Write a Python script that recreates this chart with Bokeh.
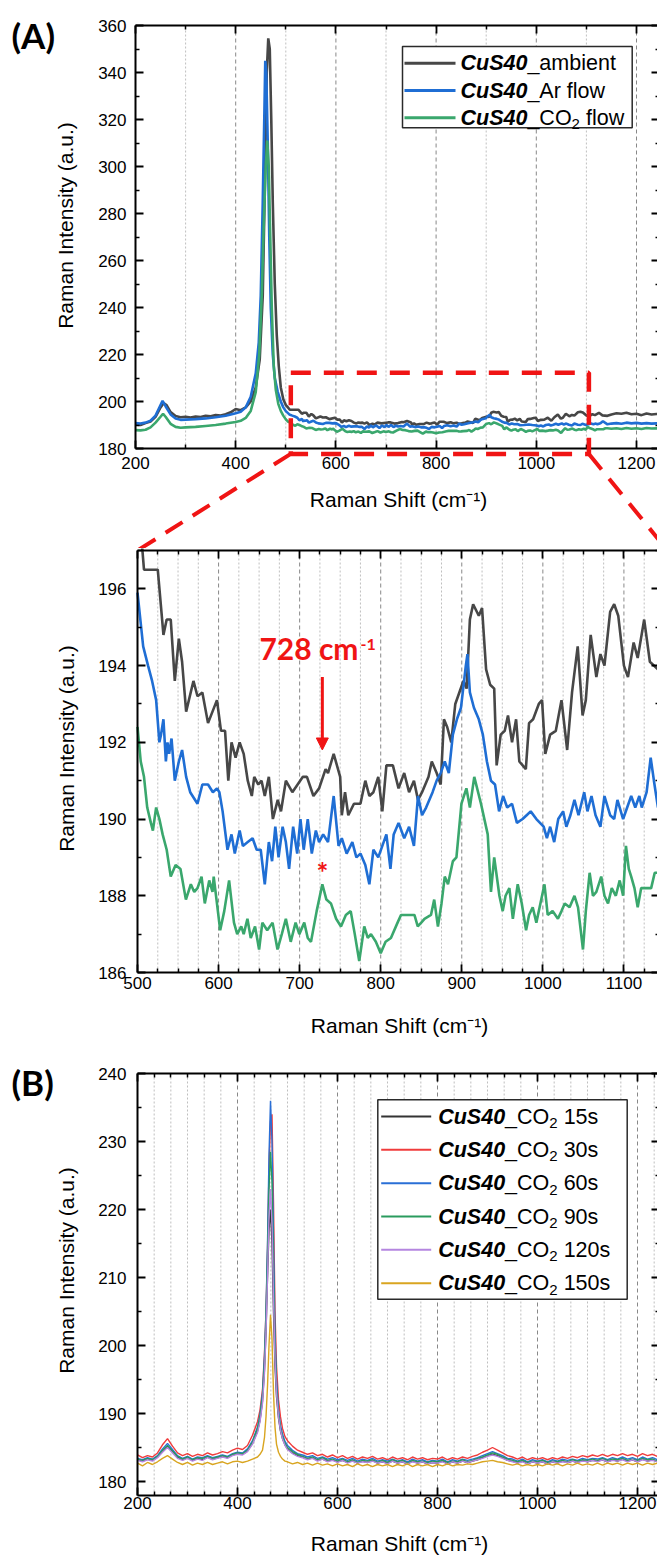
from bokeh.plotting import figure
from bokeh.models import (LinearAxis, FixedTicker, Label, BoxAnnotation, Arrow, NormalHead, Range1d)
from bokeh.layouts import column
from bokeh.embed import file_html
from bokeh.resources import INLINE

# ---------------------------------------------------------------- data
# Panel (A) / zoom panel : CuS40 spectra (Raman shift cm-1, intensity a.u.)
ambient_pts = [
    (200, 190.2), (210, 190.0), (220, 190.8), (230, 191.5), (240, 193.5), (250, 197.5), (256, 199.3),
    (262, 198.5), (270, 195.5), (280, 193.8), (290, 193.3), (300, 193.5), (310, 193.2), (320, 193.6),
    (330, 193.4), (340, 193.9), (350, 193.7), (360, 194.2), (370, 194.0), (380, 194.6), (390, 195.4),
    (400, 196.8), (410, 196.3), (420, 197.5), (430, 200.0), (440, 206.0), (448, 218.0), (454, 245.0),
    (458, 290.0), (462, 340.0), (465, 354.5), (468, 350.0), (471, 320.0), (474, 285.0), (478, 250.0),
    (482, 228.0), (486, 215.0), (490, 206.0), (495, 201.0), (500, 198.5), (503, 197.8),
    (508, 196.5), (515, 196.5), (525, 196.5), (532, 194.8), (536, 195.2), (541, 195.2), (546, 193.6),
    (551, 194.7), (555, 194.1), (560, 192.8), (569, 193.6), (574, 193.2), (580, 193.3), (587, 192.5),
    (598, 193.1), (603, 192.3), (608, 192.3), (612, 191.0), (616, 192.0), (621, 191.6), (626, 192.0),
    (631, 191.7), (636, 191.0), (641, 190.6), (644, 191.1), (649, 190.9), (653, 191.0), (657, 190.6),
    (662, 191.1), (667, 190.0), (673, 190.5), (677, 190.2), (683, 191.0), (691, 190.7), (704, 191.1),
    (709, 191.1), (717, 190.6), (724, 190.8), (732, 191.3), (735, 191.2), (742, 191.7), (750, 191.1),
    (752, 190.1), (756, 190.7), (760, 190.1), (767, 190.4), (775, 190.4), (781, 191.0), (786, 190.6),
    (791, 190.7), (797, 191.1), (802, 190.2), (807, 191.4), (815, 191.4), (822, 190.8), (829, 191.2),
    (835, 190.7), (841, 191.0), (846, 190.5), (851, 190.7), (859, 191.1), (863, 191.5), (869, 191.2),
    (874, 190.9), (878, 192.6), (882, 192.4), (887, 192.0), (892, 193.0), (897, 193.3), (902, 193.6),
    (906, 193.4), (910, 195.2), (914, 195.6), (921, 195.3), (925, 195.5), (930, 193.9), (935, 193.5),
    (940, 193.4), (943, 191.4), (948, 192.2), (953, 192.3), (957, 192.7), (962, 192.0), (967, 192.6),
    (971, 191.5), (979, 191.3), (983, 192.5), (988, 192.6), (995, 193.0), (999, 193.1), (1003, 191.7),
    (1009, 192.2), (1016, 192.3), (1023, 193.1), (1030, 191.8), (1036, 193.3), (1043, 194.5),
    (1049, 192.7), (1053, 193.1), (1059, 194.8), (1066, 193.7), (1071, 194.3), (1076, 194.0),
    (1083, 195.4), (1088, 195.6), (1093, 195.3), (1100, 194.0), (1105, 193.7), (1112, 194.6),
    (1117, 194.2), (1125, 195.2), (1132, 194.1), (1142, 193.9), (1150, 194.5), (1160, 195.0),
    (1170, 194.8), (1180, 195.2), (1190, 194.6), (1200, 194.8), (1210, 194.2), (1220, 194.9),
    (1230, 194.5), (1240, 194.7), (1250, 194.6),
]
arflow_pts = [
    (200, 190.8), (210, 190.6), (220, 191.0), (230, 191.8), (240, 194.0), (250, 198.5), (254, 200.3),
    (260, 198.0), (270, 194.5), (280, 192.8), (290, 192.2), (300, 192.3), (320, 192.5), (340, 192.8),
    (360, 193.3), (380, 193.9), (400, 195.0), (410, 195.6), (420, 197.5), (430, 202.0), (440, 212.0),
    (446, 225.0), (450, 245.0), (454, 285.0), (457, 320.0), (459, 345.0), (461, 340.0), (464, 310.0),
    (467, 270.0), (470, 240.0), (474, 220.0), (478, 210.0), (484, 204.0), (490, 200.0), (495, 197.5),
    (500, 195.9), (507, 194.5), (513, 194.0), (518, 193.6), (523, 193.1), (527, 192.0), (529, 192.2),
    (532, 192.6), (535, 191.5), (537, 192.0), (539, 191.7), (542, 192.1), (546, 191.0), (551, 191.5),
    (555, 191.8), (560, 191.1), (565, 190.7), (574, 190.4), (580, 190.9), (587, 190.9), (593, 190.7),
    (598, 190.8), (601, 190.7), (605, 190.2), (611, 189.2), (616, 189.6), (620, 189.1), (626, 189.7),
    (630, 189.3), (636, 189.4), (642, 189.5), (647, 189.2), (652, 189.2), (657, 188.3), (662, 189.4),
    (666, 188.9), (670, 189.8), (674, 189.0), (679, 189.8), (683, 189.4), (687, 188.7), (692, 189.8),
    (697, 189.1), (701, 190.0), (705, 189.2), (710, 190.0), (715, 189.1), (720, 189.7), (724, 189.4),
    (729, 189.6), (735, 189.4), (742, 190.6), (748, 189.3), (752, 189.5), (758, 189.1), (765, 189.4),
    (770, 189.0), (775, 189.1), (781, 188.8), (786, 188.3), (791, 189.2), (797, 189.0), (802, 189.3),
    (807, 189.6), (812, 188.7), (816, 189.6), (822, 189.9), (829, 189.5), (835, 189.8), (841, 189.3),
    (846, 190.6), (851, 190.1), (856, 190.3), (864, 190.7), (869, 191.0), (874, 191.2), (879, 191.5),
    (884, 191.2), (889, 192.2), (894, 192.6), (899, 192.9), (905, 194.0), (907, 194.3), (910, 193.3),
    (915, 192.9), (921, 192.6), (926, 192.2), (931, 191.5), (936, 191.0), (941, 190.9), (946, 190.2),
    (951, 190.6), (956, 190.3), (962, 190.4), (968, 189.9), (975, 190.0), (980, 190.1), (985, 190.2),
    (992, 190.0), (1001, 189.8), (1005, 189.5), (1009, 189.8), (1014, 189.4), (1019, 190.0),
    (1025, 190.2), (1029, 189.8), (1034, 190.1), (1039, 190.5), (1044, 190.1), (1051, 190.7),
    (1055, 190.2), (1060, 190.6), (1065, 190.1), (1071, 189.8), (1076, 190.6), (1083, 190.1),
    (1088, 190.0), (1092, 190.5), (1099, 190.0), (1104, 190.3), (1109, 190.6), (1114, 190.3),
    (1119, 190.6), (1122, 190.3), (1128, 190.7), (1133, 191.6), (1137, 191.0), (1142, 190.3),
    (1150, 190.6), (1160, 190.8), (1170, 190.5), (1180, 191.0), (1190, 190.7), (1200, 190.9),
    (1210, 190.6), (1220, 190.8), (1230, 190.6), (1240, 190.7), (1250, 190.6),
]
co2flow_pts = [
    (200, 187.8), (210, 187.7), (220, 188.0), (230, 189.0), (240, 191.0), (250, 193.5), (255, 194.8),
    (260, 193.5), (270, 190.5), (280, 189.2), (290, 188.8), (300, 189.0), (320, 189.2), (340, 189.6),
    (360, 190.0), (380, 190.6), (400, 191.3), (410, 191.8), (420, 193.0), (430, 196.0), (440, 204.0),
    (447, 220.0), (452, 245.0), (456, 275.0), (460, 300.0), (463, 311.0), (466, 300.0), (469, 270.0),
    (472, 240.0), (476, 215.0), (480, 205.0), (485, 199.0), (490, 196.0), (495, 194.0),
    (500, 192.4), (504, 191.5), (508, 191.1), (512, 190.3), (516.5, 189.9), (519, 189.7), (523, 190.3),
    (527, 190.0), (531, 189.6), (536, 189.2), (541, 188.5), (547, 188.8), (553, 188.7), (559.7, 187.9),
    (565.8, 188.3), (570, 188.1), (574, 188.2), (579, 188.5), (583, 187.8), (588.5, 188.4),
    (592.5, 188.1), (594, 188.5), (598, 187.8), (602, 187.1), (607, 187.6), (613, 188.4), (619, 187.3),
    (623, 187.0), (628, 187.2), (631, 187.0), (635.6, 187.4), (639.7, 186.9), (645, 187.2),
    (650, 186.6), (654, 187.3), (660, 187.1), (666.6, 187.3), (672.7, 186.6), (678, 187.0),
    (683, 187.4), (689, 186.8), (695, 187.3), (699.6, 187.0), (705.7, 187.3), (710, 186.9),
    (714, 186.8), (721, 187.6), (728, 188.3), (733, 187.9), (738.6, 187.8), (745, 187.4), (751, 187.2),
    (757, 187.5), (763, 187.6), (768, 187.0), (773.5, 186.3), (779.7, 187.2), (784, 186.9),
    (788, 187.0), (794, 186.8), (800, 186.5), (806, 186.8), (812.6, 186.9), (820.8, 187.3),
    (825, 187.5), (833, 187.5), (841.6, 187.5), (845.7, 187.2), (850, 187.3), (854, 187.4),
    (862, 187.5), (866, 187.9), (870.6, 187.2), (875, 187.8), (879, 188.5), (883, 188.3), (889, 188.9),
    (893.4, 189.0), (899.6, 190.4), (905.7, 190.8), (910, 190.3), (915.4, 191.1), (923.7, 190.4),
    (932, 189.6), (936, 188.1), (940, 189.0), (946.4, 188.0), (950.5, 187.6), (954, 188.0),
    (958.7, 188.2), (963, 187.4), (969, 188.3), (974, 187.8), (979.3, 187.1), (983, 187.5),
    (987.5, 187.7), (992, 187.3), (997, 187.8), (1002, 188.3), (1006, 187.5), (1012, 187.6),
    (1018.6, 187.4), (1023, 187.6), (1027, 187.8), (1033, 187.7), (1039, 188.0), (1043.4, 187.7),
    (1049.5, 186.6), (1053, 187.6), (1057.7, 188.6), (1061.8, 188.0), (1066, 188.1), (1072, 188.5),
    (1076, 188.0), (1080.4, 187.8), (1085, 188.2), (1090, 188.0), (1094.8, 188.4), (1099, 188.0),
    (1102.5, 189.3), (1106, 188.7), (1109, 188.5), (1113, 188.2), (1117, 187.7), (1121.3, 188.2),
    (1128, 188.2), (1133.6, 188.2), (1138, 188.6), (1142, 188.6), (1150, 188.4), (1160, 188.6),
    (1170, 188.3), (1180, 188.7), (1190, 188.4), (1200, 188.6), (1210, 188.3), (1220, 188.7),
    (1230, 188.5), (1240, 188.6), (1250, 188.4),
]

# Panel (B): CuS40 under CO2 for different times, common Raman shift grid
b_x = (list(range(200, 441, 10))
       + [445, 450, 454, 457, 460, 463, 466, 469, 472, 475, 478, 482, 486, 490, 495]
       + list(range(500, 1251, 10)))
b_15s = [
    183.2, 183.0, 183.3, 183.1, 183.6, 184.5, 185.2, 184.4, 183.6, 183.2,
    183.5, 183.1, 183.4, 183.2, 183.6, 183.3, 183.5, 183.7, 183.5, 183.9,
    184.1, 184.0, 184.5, 185.6, 187.4,
    189.0, 191.8, 196.5, 202.0, 210.0, 217.0, 220.0, 215.0, 205.0, 197.0, 192.5, 189.3, 187.4, 186.3, 185.4,
    184.8, 184.2, 183.8, 183.6, 183.3, 183.5, 183.1, 183.3, 183.0, 183.2,
    182.9, 183.1, 182.8, 183.1, 182.7, 183.0, 182.8, 183.1, 182.7, 182.9,
    182.7, 183.0, 182.7, 182.9, 182.6, 183.0, 182.7, 182.9, 182.6, 182.8,
    182.7, 183.0, 182.6, 182.9, 182.7, 183.0, 182.8, 183.0, 183.2, 183.5,
    183.8, 184.0, 183.8, 183.5, 183.1, 183.0, 182.7, 183.0, 182.6, 182.9,
    182.7, 182.9, 182.6, 182.9, 182.7, 183.0, 182.8, 183.0, 182.8, 183.1,
    182.9, 183.1, 183.0, 183.2, 182.9, 183.2, 183.0, 183.3, 183.0, 183.2,
    182.9, 183.3, 183.0, 183.2, 182.9, 183.3,
]
b_30s = [
    183.9, 183.5, 183.8, 183.6, 184.2, 185.4, 186.3, 185.2, 184.2, 183.8,
    184.1, 183.7, 184.0, 183.8, 184.2, 183.9, 184.1, 184.4, 184.2, 184.6,
    184.9, 184.7, 185.3, 186.8, 188.8,
    190.5, 193.5, 199.0, 205.0, 214.0, 226.0, 233.0, 234.0, 221.0, 205.0, 197.0, 192.0, 189.5, 187.8, 186.6,
    186.0, 185.2, 184.6, 184.3, 184.0, 184.2, 183.8, 184.0, 183.6, 183.9,
    183.5, 183.8, 183.4, 183.7, 183.3, 183.6, 183.4, 183.7, 183.3, 183.5,
    183.2, 183.6, 183.3, 183.5, 183.2, 183.6, 183.3, 183.5, 183.2, 183.4,
    183.3, 183.6, 183.2, 183.5, 183.3, 183.6, 183.4, 183.7, 183.9, 184.3,
    184.6, 185.0, 184.6, 184.2, 183.8, 183.6, 183.3, 183.6, 183.2, 183.5,
    183.3, 183.5, 183.2, 183.5, 183.3, 183.6, 183.4, 183.7, 183.5, 183.8,
    183.6, 183.9, 183.7, 184.0, 183.7, 184.0, 183.8, 184.1, 183.8, 184.0,
    183.7, 184.1, 183.8, 184.0, 183.7, 184.2,
]
b_60s = [
    183.4, 183.2, 183.5, 183.3, 183.8, 184.8, 185.6, 184.7, 183.8, 183.4,
    183.7, 183.3, 183.6, 183.5, 183.8, 183.5, 183.7, 183.9, 183.7, 184.1,
    184.3, 184.2, 184.8, 186.0, 188.0,
    189.8, 193.0, 198.5, 205.0, 215.0, 228.0, 236.0, 230.0, 216.0, 202.0, 195.0, 190.5, 188.2, 187.0, 185.9,
    185.3, 184.6, 184.1, 183.9, 183.6, 183.8, 183.4, 183.6, 183.3, 183.5,
    183.2, 183.4, 183.1, 183.4, 183.0, 183.3, 183.1, 183.4, 183.0, 183.2,
    183.0, 183.3, 183.0, 183.2, 182.9, 183.3, 183.0, 183.2, 182.9, 183.1,
    183.0, 183.3, 182.9, 183.2, 183.0, 183.3, 183.1, 183.3, 183.5, 183.8,
    184.1, 184.4, 184.1, 183.8, 183.4, 183.3, 183.0, 183.3, 182.9, 183.2,
    183.0, 183.2, 182.9, 183.2, 183.0, 183.3, 183.1, 183.3, 183.1, 183.4,
    183.2, 183.4, 183.3, 183.5, 183.2, 183.5, 183.3, 183.6, 183.3, 183.5,
    183.2, 183.6, 183.3, 183.5, 183.2, 183.6,
]
b_90s = [
    183.3, 183.1, 183.4, 183.2, 183.7, 184.6, 185.3, 184.5, 183.7, 183.3,
    183.6, 183.2, 183.5, 183.4, 183.7, 183.4, 183.6, 183.8, 183.6, 184.0,
    184.2, 184.1, 184.6, 185.8, 187.8,
    189.5, 192.5, 197.5, 204.0, 213.0, 223.0, 228.5, 224.0, 211.0, 200.0, 194.0, 190.0, 187.8, 186.6, 185.6,
    185.0, 184.4, 184.0, 183.7, 183.4, 183.6, 183.2, 183.5, 183.1, 183.3,
    183.0, 183.3, 182.9, 183.2, 182.8, 183.1, 183.0, 183.2, 182.8, 183.1,
    182.8, 183.2, 182.9, 183.1, 182.7, 183.1, 182.9, 183.0, 182.8, 183.0,
    182.9, 183.1, 182.8, 183.0, 182.9, 183.2, 182.9, 183.1, 183.4, 183.6,
    183.9, 184.2, 184.0, 183.6, 183.3, 183.1, 182.9, 183.1, 182.8, 183.0,
    182.9, 183.1, 182.8, 183.0, 182.9, 183.1, 182.9, 183.2, 183.0, 183.2,
    183.1, 183.3, 183.1, 183.4, 183.1, 183.3, 183.2, 183.4, 183.1, 183.3,
    183.1, 183.4, 183.2, 183.3, 183.0, 183.4,
]
b_120s = [
    183.1, 182.9, 183.2, 183.0, 183.5, 184.3, 185.0, 184.2, 183.4, 183.1,
    183.4, 183.0, 183.3, 183.1, 183.5, 183.2, 183.4, 183.6, 183.4, 183.8,
    184.0, 183.9, 184.4, 185.5, 187.2,
    188.8, 191.5, 196.0, 202.0, 210.0, 219.0, 223.0, 218.0, 207.0, 198.0, 193.0, 189.5, 187.5, 186.3, 185.3,
    184.7, 184.1, 183.7, 183.5, 183.2, 183.4, 183.0, 183.3, 182.9, 183.1,
    182.8, 183.1, 182.7, 183.0, 182.7, 182.9, 182.8, 183.0, 182.7, 182.9,
    182.6, 183.0, 182.7, 182.9, 182.6, 182.9, 182.7, 182.9, 182.6, 182.8,
    182.7, 182.9, 182.6, 182.9, 182.7, 183.0, 182.8, 183.0, 183.2, 183.4,
    183.7, 183.9, 183.7, 183.4, 183.1, 182.9, 182.7, 182.9, 182.6, 182.9,
    182.7, 182.9, 182.6, 182.9, 182.7, 182.9, 182.8, 183.0, 182.8, 183.0,
    182.9, 183.1, 182.9, 183.2, 182.9, 183.1, 183.0, 183.2, 182.9, 183.2,
    182.9, 183.2, 183.0, 183.1, 182.9, 183.2,
]
b_150s = [
    182.7, 182.3, 182.8, 182.5, 182.9, 183.4, 183.8, 183.3, 182.8, 182.5,
    182.8, 182.4, 182.7, 182.5, 182.8, 182.5, 182.7, 182.9, 182.6, 182.9,
    183.0, 182.8, 183.0, 183.3, 183.6,
    184.0, 184.6, 186.5, 189.5, 194.0, 200.0, 204.5, 201.0, 193.0, 188.0, 185.5, 184.3, 183.7, 183.3, 183.0,
    182.9, 182.6, 182.8, 182.5, 182.7, 182.4, 182.7, 182.4, 182.6, 182.3,
    182.6, 182.3, 182.5, 182.2, 182.6, 182.3, 182.5, 182.2, 182.5, 182.3,
    182.5, 182.2, 182.5, 182.3, 182.6, 182.2, 182.5, 182.3, 182.5, 182.2,
    182.5, 182.3, 182.6, 182.3, 182.5, 182.4, 182.6, 182.5, 182.7, 182.9,
    183.0, 183.1, 182.9, 182.8, 182.6, 182.4, 182.6, 182.3, 182.5, 182.3,
    182.5, 182.3, 182.6, 182.4, 182.6, 182.3, 182.6, 182.4, 182.7, 182.4,
    182.6, 182.4, 182.7, 182.4, 182.7, 182.5, 182.7, 182.4, 182.7, 182.5,
    182.7, 182.4, 182.7, 182.5, 182.7, 182.4,
]
for _s in (b_15s, b_30s, b_60s, b_90s, b_120s, b_150s):
    assert len(_s) == len(b_x), (len(_s), len(b_x))

# tick positions
a_xmajor = list(range(200, 1201, 200)); a_xminor = list(range(300, 1201, 200))
a_ymajor = list(range(180, 361, 20));   a_yminor = list(range(190, 361, 20))
m_xmajor = list(range(500, 1101, 100)); m_xminor = [v for v in range(525, 1150, 25) if v % 100]
m_ymajor = list(range(186, 197, 2));    m_yminor = list(range(187, 198, 2))
b_xmajor = list(range(200, 1201, 200)); b_xminor = [200 + k * 100 / 3 for k in range(1, 32) if k % 6]
b_ymajor = list(range(180, 241, 10));   b_yminor = list(range(185, 241, 10))

# zoom window and annotation
zoom_box = dict(left=510, right=1105, bottom=177.7, top=212.2)
peak_pos = 728
arrow_top, arrow_tip = 193.7, 191.8
star_y = 188.62

# ---------------------------------------------------------------- style
FONT = "Liberation Sans"
RED = "#f01414"
C_GRAY, C_BLUE, C_GREEN = "#474747", "#1f6ed4", "#3aa76d"
B_COLORS = ["#333333", "#f03c3c", "#2a6fd6", "#2a9b5e", "#b586e0", "#d9a520"]
LEG_FS, SUB_FS, SUB_DROP = 21.5, 15, 6.5

ARIAL = {' ': 278, '_': 556, 'a': 556, 'b': 556, 'c': 500, 'e': 556, 'f': 278, 'i': 222, 'l': 222,
         'm': 833, 'n': 556, 'o': 556, 'r': 333, 's': 500, 't': 278, 'w': 722, 'A': 667, 'C': 722,
         'O': 778, 'S': 667, 'u': 556}
ARIAL_BI = {'C': 722, 'u': 611, 'S': 667}


def tw(s, px, table):
    return sum(table.get(ch, 556) for ch in s) * px / 1000.0


class Panel:
    """A figure whose frame fills the whole canvas; page px <-> data helpers."""

    def __init__(self, top, height, x_at, y_at):
        # x_at = (data0, page0, px_per_unit); y_at = (data0, page0, px_per_unit)
        self.top, self.height = top, height
        self.xa, self.ya = x_at, y_at
        x0 = self.dx(0); x1 = self.dx(657)
        y1 = self.dy(top); y0 = self.dy(top + height)
        p = figure(width=657, height=height, x_range=Range1d(x0, x1), y_range=Range1d(y0, y1),
                   x_axis_type=None, y_axis_type=None, toolbar_location=None,
                   output_backend="svg", min_border=0, min_border_left=0, min_border_right=0,
                   min_border_top=0, min_border_bottom=0)
        p.outline_line_color = None
        p.background_fill_color = "white"
        p.border_fill_color = "white"
        self.p = p

    def dx(self, X):
        d0, p0, k = self.xa
        return d0 + (X - p0) / k

    def dy(self, Y):
        d0, p0, k = self.ya
        return d0 - (Y - p0) / k

    def sx(self, X):
        return X

    def sy(self, Y):
        return self.top + self.height - Y

    def axes(self, xlim, ylim, xmaj, xmin, ymaj, ymin, xstand, ystand):
        p = self.p
        specs = [("below", ylim[0], xlim, xmaj, xmin, True, xstand),
                 ("left", xlim[0], ylim, ymaj, ymin, True, ystand),
                 ("above", ylim[1], xlim, xmaj, xmin, False, 0),
                 ("right", xlim[1], ylim, ymaj, ymin, False, 0)]
        for place, loc, bnd, maj, mnr, lab, stand in specs:
            ax = LinearAxis(fixed_location=loc, bounds=bnd,
                            ticker=FixedTicker(ticks=maj, minor_ticks=mnr))
            ax.axis_line_width = 2
            ax.axis_line_color = "black" if place != "right" else None
            ax.major_tick_in = 8
            ax.major_tick_out = 0
            ax.minor_tick_in = 4
            ax.minor_tick_out = 0
            ax.major_tick_line_width = 1.8
            ax.minor_tick_line_width = 1.5
            ax.major_tick_line_color = "black"
            ax.minor_tick_line_color = "black"
            if lab:
                ax.major_label_text_font = FONT
                ax.major_label_text_font_size = "17px"
                ax.major_label_text_color = "black"
                ax.major_label_standoff = stand
            else:
                ax.major_label_text_color = None
            p.add_layout(ax, place)
        # vertical grid lines, restricted to the plotting box
        gmaj = [v for v in xmaj if xlim[0] < v < xlim[1]]
        gmin = [v for v in xmin if xlim[0] < v < xlim[1]]
        p.segment(x0=gmin, y0=[ylim[0]] * len(gmin), x1=gmin, y1=[ylim[1]] * len(gmin),
                  line_color="#b8b8b8", line_dash="2 2", line_width=0.9, level="underlay")
        p.segment(x0=gmaj, y0=[ylim[0]] * len(gmaj), x1=gmaj, y1=[ylim[1]] * len(gmaj),
                  line_color="#7a7a7a", line_dash="4 3", line_width=0.9, level="underlay")

    def label(self, X, Y, text, **kw):
        opts = dict(text_font=FONT, text_font_size="21px", text_color="black",
                    text_baseline="middle")
        opts.update(kw)
        self.p.add_layout(Label(x=self.sx(X), y=self.sy(Y), x_units="screen", y_units="screen",
                                text=text, **opts))

    def titles(self, yc, xc):
        self.label(yc[0], yc[1], "Raman Intensity (a.u.)", angle=90, angle_units="deg",
                   text_align="center")
        self.label(xc[0], xc[1], "Raman Shift (cm\u207b\u00b9)", text_align="center")

    def legend(self, box, sample, text_x, rows, lw):
        l, r, t, b = box  # page coordinates
        self.p.add_layout(BoxAnnotation(left=self.sx(l), right=self.sx(r), top=self.sy(t),
                                        bottom=self.sy(b), left_units="screen",
                                        right_units="screen", top_units="screen",
                                        bottom_units="screen", fill_color="white",
                                        fill_alpha=1.0, line_color="#2a2a2a", line_alpha=1.0,
                                        line_width=1.5))
        for Yc, color, parts in rows:
            self.p.add_layout(Arrow(x_start=self.sx(sample[0]), y_start=self.sy(Yc),
                                    x_end=self.sx(sample[1]), y_end=self.sy(Yc),
                                    start_units="screen", end_units="screen", end=None,
                                    line_color=color, line_width=lw))
            X = text_x
            for text, kind in parts:
                if kind == "bi":
                    fs, Y, style, table = LEG_FS, Yc, "bold italic", ARIAL_BI
                elif kind == "sub":
                    fs, Y, style, table = SUB_FS, Yc + SUB_DROP, "normal", ARIAL
                else:
                    fs, Y, style, table = LEG_FS, Yc, "normal", ARIAL
                lead = len(text) - len(text.lstrip(" "))
                X += tw(" " * lead, fs, table)
                body = text.lstrip(" ")
                self.label(X, Y, body, text_font_style=style, text_font_size=f"{fs}px",
                           text_align="left")
                X += tw(body, fs, table)


def xy(pts, xmin=None):
    sel = [(a, b) for a, b in pts if xmin is None or a >= xmin]
    return [a for a, _ in sel], [b for _, b in sel]


series_a = [(ambient_pts, C_GRAY), (arflow_pts, C_BLUE), (co2flow_pts, C_GREEN)]

# ---------------------------------------------------------------- panel A (page y 0..548)
A = Panel(0, 548, (200, 135, 0.501), (180, 448, 423 / 180))
A_RIGHT = A.dx(659)
A.axes((200, A_RIGHT), (180, 360), a_xmajor, a_xminor, a_ymajor, a_yminor, 8, 9)
for pts, c in series_a:
    xs, ys = xy(pts)
    A.p.line(xs, ys, line_color=c, line_width=2.6)
A.titles((65, 225), (398, 499))
A.label(11, 34, "(A)", text_font="Lato", text_font_style="bold", text_font_size="35px",
        text_align="left")
A.legend((402, 631.7, 46, 127.3), (404, 455), 460,
         [(62.7, C_GRAY, [("CuS40", "bi"), ("_ambient", "n")]),
          (90.0, C_BLUE, [("CuS40", "bi"), ("_Ar flow", "n")]),
          (117.3, C_GREEN, [("CuS40", "bi"), ("_CO", "n"), ("2", "sub"), (" flow", "n")])], 3)
A.p.add_layout(BoxAnnotation(fill_color=None, line_color=RED, line_alpha=1.0, line_width=4.5,
                             line_dash="20 13", **zoom_box))
# dashed connectors from the zoom window to the corners of the zoom panel (page y 550)
for xb, X_end in [(zoom_box["left"], 137), (zoom_box["right"], 667)]:
    A.p.add_layout(Arrow(x_start=xb, y_start=zoom_box["bottom"], x_end=A.dx(X_end),
                         y_end=A.dy(550), end=None, line_color=RED, line_width=4,
                         line_dash="20 12"))

# ---------------------------------------------------------------- zoom panel (page y 548..1046)
M = Panel(548, 498, (500, 137, 0.8107), (186, 972, 422 / 11))
M_RIGHT = M.dx(659)
M.axes((500, M_RIGHT), (186, 197), m_xmajor, m_xminor, m_ymajor, m_yminor, 4, 11)
for pts, c in series_a:
    xs, ys = xy(pts, xmin=500)
    M.p.line(xs, ys, line_color=c, line_width=2.6)
M.titles((66, 748), (399, 1025))
M.p.add_layout(Arrow(x_start=peak_pos, y_start=arrow_top, x_end=peak_pos, y_end=arrow_tip,
                     line_color=RED, line_width=3,
                     end=NormalHead(size=12, fill_color=RED, line_color=RED, line_width=1)))
M.p.add_layout(Label(x=772.6, y=194.46, text="728 cm", text_align="right",
                     text_baseline="middle", text_font="Lato", text_font_style="bold",
                     text_font_size="30px", text_color=RED))
M.p.add_layout(Label(x=775.0, y=194.55, text="-1", text_align="left",
                     text_baseline="middle", text_font="Lato", text_font_style="bold",
                     text_font_size="16px", text_color=RED))
M.p.add_layout(Label(x=peak_pos, y=star_y, text="*", text_align="center",
                     text_baseline="middle", text_font="Lato", text_font_style="bold",
                     text_font_size="28px", text_color=RED))

# ---------------------------------------------------------------- panel B (page y 1046..1557)
B = Panel(1046, 511, (200, 137, 0.5), (180, 1481, 6.8))
B_RIGHT = B.dx(659)
B_BOTTOM = B.dy(1495)
B.axes((200, B_RIGHT), (B_BOTTOM, 240), b_xmajor, b_xminor, b_ymajor, b_yminor, 1, 11)
for ys, c in zip([b_15s, b_30s, b_60s, b_90s, b_120s, b_150s], B_COLORS):
    B.p.line(b_x, ys, line_color=c, line_width=1.4)
B.titles((66, 1270), (399, 1543))
B.label(11, 1081, "(B)", text_font="Lato", text_font_style="bold", text_font_size="35px",
        text_align="left")
b_times = ["15s", "30s", "60s", "90s", "120s", "150s"]
b_rows = []
for Yc, c, tlab in zip([1116, 1149.3, 1182.7, 1216, 1249.3, 1282.7], B_COLORS, b_times):
    b_rows.append((Yc, c, [("CuS40", "bi"), ("_CO", "n"), ("2", "sub"), (" " + tlab, "n")]))
B.legend((377.3, 626.7, 1099.3, 1298.8), (380.7, 430.7), 437.7, b_rows, 2)

layout = column(A.p, M.p, B.p, spacing=0)
open("out.html", "w").write(file_html(layout, INLINE))
